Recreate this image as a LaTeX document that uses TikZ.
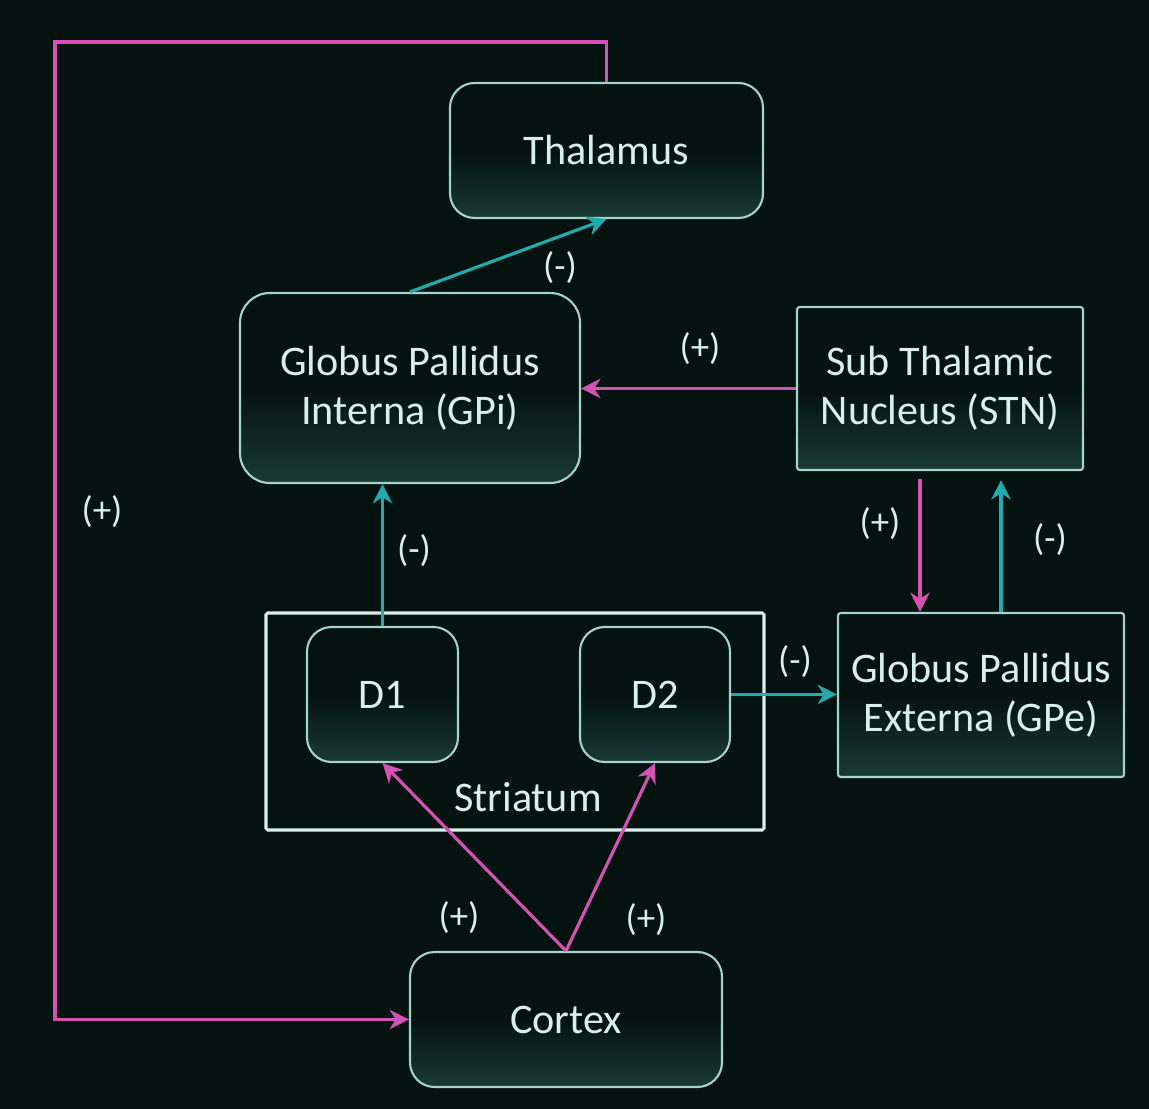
\documentclass[tikz,border=0pt]{standalone}
\usepackage{fontspec}
\setmainfont{Carlito}
\usetikzlibrary{arrows.meta,calc}
\definecolor{bg}{RGB}{4,18,16}
\definecolor{boxbot}{RGB}{26,58,54}
\definecolor{bord}{RGB}{165,212,202}
\definecolor{txt}{RGB}{215,240,235}
\definecolor{mag}{RGB}{212,82,180}
\definecolor{tealc}{RGB}{32,172,172}
\tikzset{
  box/.style={draw=bord, line width=1.2pt, top color=bg, bottom color=boxbot, middle color=bg,
    text=txt, align=center, inner sep=0pt, font=\fontsize{24}{28}\selectfont},
  rbox/.style={box, rounded corners=14pt},
  sbox/.style={box, rounded corners=1.5pt},
  lbl/.style={text=txt, font=\fontsize{21}{24}\selectfont},
  excite/.style={draw=mag, line width=1.8pt, -{Stealth[length=11pt,width=11pt,inset=3.5pt]}},
  inhib/.style={draw=tealc, line width=1.8pt, -{Stealth[length=11pt,width=11pt,inset=3.5pt]}},
}
\begin{document}
\begin{tikzpicture}
\fill[bg] (0,0) rectangle (22.98,-22.18);
\useasboundingbox (0,0) rectangle (22.98,-22.18);

\node[rbox, minimum width=6.26cm, minimum height=2.7cm] (thal) at (12.13,-3.01) {Thalamus};
\node[box, rounded corners=17pt, minimum width=6.8cm, minimum height=3.8cm] (gpi) at (8.2,-7.76) {Globus Pallidus\\Interna (GPi)};
\node[sbox, minimum width=5.72cm, minimum height=3.26cm] (stn) at (18.8,-7.77) {Sub Thalamic\\Nucleus (STN)};
\node[draw=txt, line width=1.8pt, rounded corners=1pt, minimum width=9.96cm, minimum height=4.34cm, inner sep=0pt] (str) at (10.3,-14.43) {};
\node[rbox, minimum width=3.02cm, minimum height=2.7cm] (d1) at (7.65,-13.89) {D1};
\node[rbox, minimum width=3.0cm, minimum height=2.7cm] (d2) at (13.1,-13.89) {D2};
\node[text=txt, font=\fontsize{24}{28}\selectfont] (strl) at (10.56,-15.94) {Striatum};
\node[sbox, minimum width=5.72cm, minimum height=3.28cm] (gpe) at (19.62,-13.9) {Globus Pallidus\\Externa (GPe)};
\node[rbox, minimum width=6.24cm, minimum height=2.7cm] (cor) at (11.32,-20.39) {Cortex};

% connectors
\draw[excite] (cor.north) -- (d1.south);
\draw[excite] (cor.north) -- (d2.south);
\coordinate (tl) at (1.1,-0.84);
\draw[excite] (thal.north) |- (tl) |- (cor.west);
\draw[inhib] (gpi.north) -- (thal.south);
\draw[excite] (stn.west) -- (stn.west -| gpi.east);
\draw[inhib] (d1.north) -- (d1.north |- gpi.south);
\draw[inhib] (d2.east) -- (d2.east -| gpe.west);
\coordinate (sa) at ($(stn.south)+(-0.4,-0.16)$);
\draw[excite] (sa) -- (sa |- gpe.north);
\coordinate (ga) at ($(gpe.north)+(0.4,0)$);
\draw[inhib] (ga) -- ($(ga |- stn.south)+(0,-0.18)$);

% labels
\node[lbl] (l1) at (11.2,-5.36) {(-)};
\node[lbl] (l2) at (14.0,-6.98) {(+)};
\node[lbl] (l3) at (2.04,-10.24) {(+)};
\node[lbl] (l4) at (8.28,-11.02) {(-)};
\node[lbl] (l5) at (17.6,-10.48) {(+)};
\node[lbl] (l6) at (21.0,-10.8) {(-)};
\node[lbl] (l7) at (15.9,-13.24) {(-)};
\node[lbl] (l8) at (9.18,-18.36) {(+)};
\node[lbl] (l9) at (12.92,-18.4) {(+)};
\end{tikzpicture}
\end{document}
